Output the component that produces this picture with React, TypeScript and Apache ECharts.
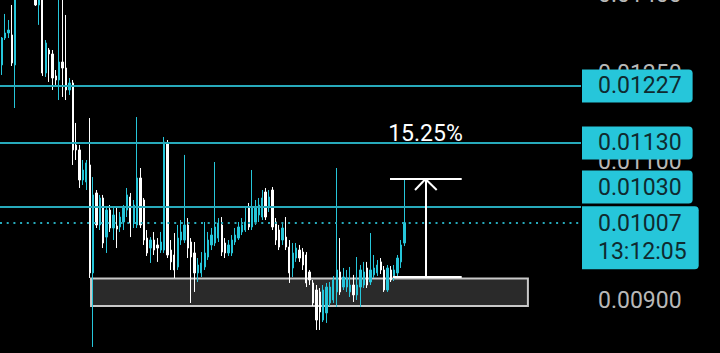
import React, { useEffect, useRef } from "react";
import * as echarts from "echarts";

// OHLC candles: [open, close, low, high]
const candles: number[][] = [
  [0.012647, 0.013149, 0.012465, 0.013168],
  [0.013149, 0.013245, 0.013111, 0.013614],
  [0.013245, 0.013302, 0.013149, 0.013496],
  [0.013207, 0.012683, 0.012628, 0.013792],
  [0.012647, 0.014093, 0.011884, 0.014299],
  [0.0141, 0.0146, 0.014, 0.0149],
  [0.0146, 0.015, 0.0144, 0.0153],
  [0.015, 0.0147, 0.0145, 0.0154],
  [0.0147, 0.0144, 0.0142, 0.0149],
  [0.0144, 0.0141, 0.01395, 0.0146],
  [0.013992, 0.013792, 0.013772, 0.014093],
  [0.013792, 0.013932, 0.013401, 0.014093],
  [0.013932, 0.012501, 0.012447, 0.014093],
  [0.012501, 0.013055, 0.012429, 0.013111],
  [0.012923, 0.012849, 0.01234, 0.012961],
  [0.012849, 0.012411, 0.012198, 0.012923],
  [0.012447, 0.012375, 0.012287, 0.012555],
  [0.012375, 0.012701, 0.012022, 0.013992],
  [0.012701, 0.012591, 0.012075, 0.013892],
  [0.012591, 0.012198, 0.012022, 0.013594],
  [0.012198, 0.012322, 0.01211, 0.012411],
  [0.012322, 0.011185, 0.010945, 0.012375],
  [0.011266, 0.011185, 0.011024, 0.01163],
  [0.011185, 0.01071, 0.010587, 0.011266],
  [0.01071, 0.010866, 0.010633, 0.011024],
  [0.010679, 0.010977, 0.010556, 0.011024],
  [0.010945, 0.009364, 0.009296, 0.011713],
  [0.009364, 0.010481, 0.008414, 0.010756],
  [0.010511, 0.010036, 0.009992, 0.010556],
  [0.010036, 0.010435, 0.009963, 0.010481],
  [0.010435, 0.009778, 0.009707, 0.010481],
  [0.009862, 0.010255, 0.009638, 0.010285],
  [0.010255, 0.009992, 0.009935, 0.01033],
  [0.009992, 0.010182, 0.00982, 0.0103],
  [0.010021, 0.009977, 0.009707, 0.010285],
  [0.010007, 0.010152, 0.009935, 0.010226],
  [0.010079, 0.010285, 0.009963, 0.01033],
  [0.010255, 0.010481, 0.010152, 0.010587],
  [0.01045, 0.010065, 0.009862, 0.010511],
  [0.010065, 0.01033, 0.009992, 0.010405],
  [0.010036, 0.010741, 0.009992, 0.01173],
  [0.010741, 0.010036, 0.009992, 0.010897],
  [0.010405, 0.00982, 0.00975, 0.010435],
  [0.009848, 0.009638, 0.009596, 0.009963],
  [0.009707, 0.00982, 0.0095, 0.009862],
  [0.00982, 0.009679, 0.00961, 0.009935],
  [0.00975, 0.009707, 0.009514, 0.009848],
  [0.009679, 0.009792, 0.009638, 0.009935],
  [0.009679, 0.011315, 0.009638, 0.011397],
  [0.011299, 0.00961, 0.009568, 0.011347],
  [0.009679, 0.009514, 0.009404, 0.00982],
  [0.00961, 0.009404, 0.009296, 0.00992],
  [0.009445, 0.009848, 0.009404, 0.010036],
  [0.00982, 0.009935, 0.00975, 0.010108],
  [0.00982, 0.010036, 0.009778, 0.011105],
  [0.010036, 0.009707, 0.009568, 0.010137],
  [0.009792, 0.009582, 0.008966, 0.009848],
  [0.009638, 0.009364, 0.00911, 0.009792],
  [0.009364, 0.009472, 0.009242, 0.009568],
  [0.009364, 0.0095, 0.009309, 0.009651],
  [0.009445, 0.009638, 0.009404, 0.010079],
  [0.009582, 0.00982, 0.009541, 0.009935],
  [0.00975, 0.009891, 0.009679, 0.009992],
  [0.009778, 0.010007, 0.009735, 0.010992],
  [0.009848, 0.010065, 0.009792, 0.010137],
  [0.010036, 0.009651, 0.009596, 0.010152],
  [0.009778, 0.009638, 0.009568, 0.009848],
  [0.009638, 0.00975, 0.009596, 0.00982],
  [0.009638, 0.00982, 0.009596, 0.009891],
  [0.009792, 0.009891, 0.00975, 0.009992],
  [0.009848, 0.010007, 0.00982, 0.010079],
  [0.009935, 0.010036, 0.009891, 0.010137],
  [0.009963, 0.010079, 0.009935, 0.0103],
  [0.0103, 0.010007, 0.009963, 0.01036],
  [0.010007, 0.0103, 0.009963, 0.010866],
  [0.010079, 0.0103, 0.010036, 0.010405],
  [0.010182, 0.01033, 0.010079, 0.010435],
  [0.010152, 0.010435, 0.010108, 0.010556],
  [0.010526, 0.010152, 0.010108, 0.010587],
  [0.0103, 0.01045, 0.010226, 0.010556],
  [0.010556, 0.010007, 0.009963, 0.010602],
  [0.010079, 0.00982, 0.00975, 0.010137],
  [0.009963, 0.009721, 0.009679, 0.010036],
  [0.00982, 0.009992, 0.00975, 0.010079],
  [0.009862, 0.009721, 0.009679, 0.010152],
  [0.009721, 0.009364, 0.009229, 0.00982],
  [0.009431, 0.009638, 0.009309, 0.009778],
  [0.009568, 0.009707, 0.009514, 0.009778],
  [0.009679, 0.009568, 0.009514, 0.00975],
  [0.009651, 0.009472, 0.009404, 0.009707],
  [0.00961, 0.009229, 0.009175, 0.009651],
  [0.009377, 0.009269, 0.009202, 0.009404],
  [0.009229, 0.008966, 0.008927, 0.009269],
  [0.009136, 0.008748, 0.008623, 0.009202],
  [0.00911, 0.00885, 0.008623, 0.009162],
  [0.008748, 0.009136, 0.008723, 0.009202],
  [0.008838, 0.009175, 0.008711, 0.009229],
  [0.008966, 0.009175, 0.008927, 0.009242],
  [0.009005, 0.009269, 0.008966, 0.009323],
  [0.00911, 0.009404, 0.008914, 0.010897],
  [0.009377, 0.00911, 0.009071, 0.009848],
  [0.009175, 0.009309, 0.009136, 0.009431],
  [0.009175, 0.009296, 0.00911, 0.009404],
  [0.00911, 0.009202, 0.009044, 0.009445],
  [0.009202, 0.009071, 0.008979, 0.009337],
  [0.009071, 0.009202, 0.009005, 0.009582],
  [0.009175, 0.009404, 0.008914, 0.009472],
  [0.009202, 0.009377, 0.009162, 0.009514],
  [0.009431, 0.009202, 0.009162, 0.009514],
  [0.009242, 0.009404, 0.009202, 0.00992],
  [0.009337, 0.009431, 0.009296, 0.00961],
  [0.009364, 0.009472, 0.009323, 0.009541],
  [0.009514, 0.009404, 0.00935, 0.009568],
  [0.009404, 0.009136, 0.00911, 0.009458],
  [0.009136, 0.009431, 0.00911, 0.009472],
  [0.009404, 0.009269, 0.009242, 0.009458],
  [0.009296, 0.009404, 0.009256, 0.009472],
  [0.009364, 0.009568, 0.009323, 0.00961],
  [0.009514, 0.00975, 0.009431, 0.00982],
  [0.009778, 0.01007, 0.009735, 0.010725],
];

// horizontal price levels
const levelPrices = [0.01227, 0.0113, 0.0103];
const levelLabels = ["0.01227", "0.01130", "0.01030"];
const lastPrice = 0.01007;
const lastLabel = "0.01007\n13:12:05";

// price-axis tick labels
const axisTicks = [0.014, 0.0125, 0.011, 0.009];
const axisTickLabels = ["0.01400", "0.01250", "0.01100", "0.00900"];

// support zone: price range and bar-index span
const zonePrices = [0.008928, 0.009289];
const zoneBars = [26.4, 155.5];

// measuring tool: prices and bar indices
const measureLow = 0.009314;
const measureHigh = 0.010725;
const measureHeadLow = 0.010556;
const measureTextPrice = 0.011447;
const measureBars = { topStart: 114.75, lowStart: 115.6, end: 135.94, mid: 125.24, headL: 122.14, headR: 128.55 };
const measureText = "15.25%";

// visible price range (log scale) and bar range
const priceMin = 0.0083409;
const priceMax = 0.014507;
const barMin = -0.5;
const barMax = 171.19;

const CYAN = "#26c6da";
const LINE = "#27aabb";
const FONT = "Roboto";

export default function App() {
  const ref = useRef<HTMLDivElement>(null);
  useEffect(() => {
    document.body.style.background = "#000";
    const chart = echarts.init(ref.current!, null, { renderer: "svg" });

    const boxLabel = (text: string, extra: any = {}) => ({
      show: true,
      position: "end",
      distance: 1,
      formatter: text,
      backgroundColor: CYAN,
      color: "#0f2a30",
      fontSize: 23,
      fontFamily: FONT,
      lineHeight: 23,
      padding: [5, 11, 5, 16],
      borderRadius: [0, 4, 4, 0],
      ...extra,
    });
    const white = { color: "#ffffff", width: 2, type: "solid" };
    const noLabel = { show: false };
    const hLine = (v: number, lineStyle: any, label: any) => [
      { coord: [barMin, v], lineStyle, label },
      { coord: [barMax, v] },
    ];

    const markData: any[] = [
      ...axisTicks.map((v, k) =>
        hLine(v, { color: "rgba(0,0,0,0)", width: 0 }, {
          show: true,
          position: "end",
          distance: 17,
          formatter: axisTickLabels[k],
          color: "#b8b8b8",
          fontSize: 23,
          fontFamily: FONT,
        })
      ),
      ...levelPrices.map((v, k) =>
        hLine(v, { color: LINE, width: 2, type: "solid" },
          boxLabel(levelLabels[k], k === 2 ? { offset: [0, -20] } : {}))
      ),
      hLine(lastPrice, { color: LINE, width: 2, type: [2, 4.7] },
        boxLabel(lastLabel, { offset: [0, 15], lineHeight: 28, padding: [4, 12, 3, 16] })),
      [
        { coord: [measureBars.topStart, measureHigh], lineStyle: white, label: noLabel },
        { coord: [measureBars.end, measureHigh] },
      ],
      [
        { coord: [measureBars.lowStart, measureLow], lineStyle: white, label: noLabel },
        { coord: [measureBars.end, measureLow] },
      ],
      [
        { coord: [measureBars.mid, measureLow], lineStyle: white, label: noLabel },
        { coord: [measureBars.mid, measureHigh] },
      ],
      [
        { coord: [measureBars.headL, measureHeadLow], lineStyle: white, label: noLabel },
        { coord: [measureBars.mid, measureHigh] },
      ],
      [
        { coord: [measureBars.headR, measureHeadLow], lineStyle: white, label: noLabel },
        { coord: [measureBars.mid, measureHigh] },
      ],
    ];

    chart.setOption({
      animation: false,
      backgroundColor: "#000",
      grid: { left: 0, right: 139, top: 0, bottom: 0 },
      xAxis: { type: "value", min: barMin, max: barMax, show: false },
      yAxis: { type: "log", min: priceMin, max: priceMax, show: false },
      series: [
        {
          type: "candlestick",
          data: candles.map((c, i) => [i, c[0], c[1], c[2], c[3]]),
          encode: { x: 0, y: [1, 2, 3, 4] },
          barWidth: 1.8,
          clip: true,
          itemStyle: {
            color: CYAN,
            color0: "#ffffff",
            borderColor: CYAN,
            borderColor0: "#ffffff",
            borderWidth: 1,
          },
          markArea: {
            silent: true,
            itemStyle: { color: "#2a2a2a", borderColor: "#c8c8c8", borderWidth: 2 },
            data: [[
              { coord: [zoneBars[0], zonePrices[1]] },
              { coord: [zoneBars[1], zonePrices[0]] },
            ]],
          },
          markLine: {
            silent: true,
            symbol: ["none", "none"],
            animation: false,
            data: markData,
          },
          markPoint: {
            silent: true,
            symbol: "circle",
            symbolSize: 1,
            itemStyle: { color: "rgba(0,0,0,0)" },
            data: [{
              coord: [measureBars.mid, measureTextPrice],
              label: {
                show: true,
                position: "inside",
                formatter: measureText,
                color: "#ffffff",
                fontSize: 23,
                fontFamily: FONT,
              },
            }],
          },
        },
      ],
    });
    return () => chart.dispose();
  }, []);
  return (
    <div
      ref={ref}
      style={{ position: "fixed", left: 0, top: -30, width: 720, height: 383, background: "#000" }}
    />
  );
}
